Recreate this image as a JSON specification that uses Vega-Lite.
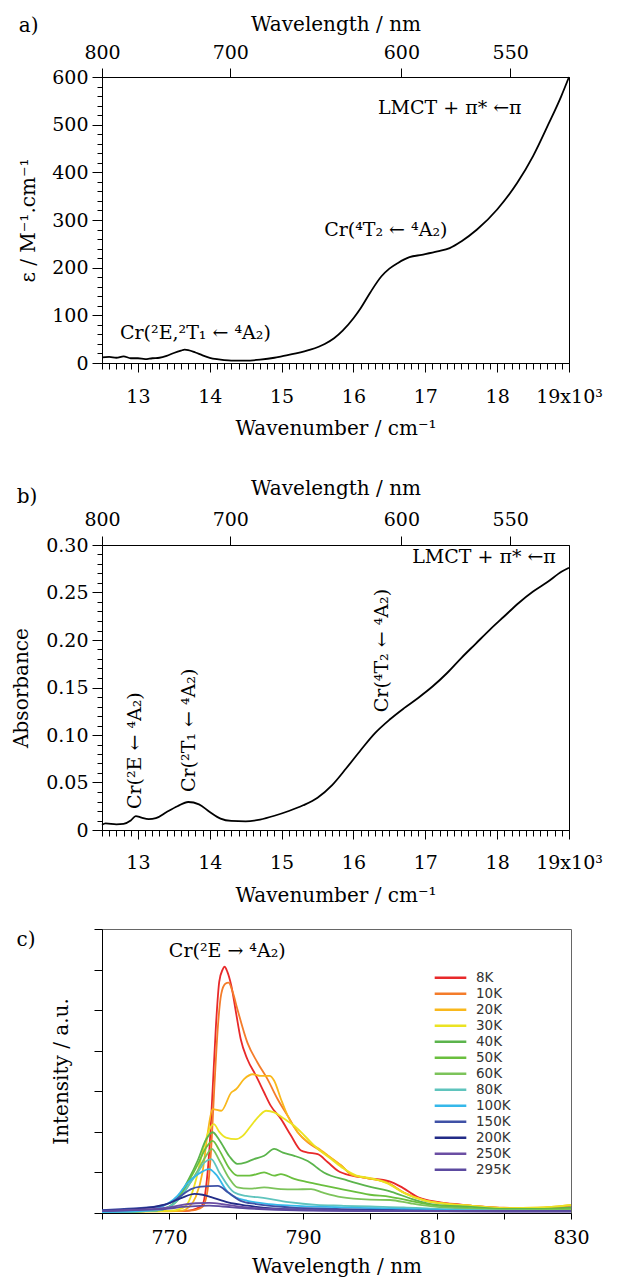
{
  "$schema": "https://vega.github.io/schema/vega-lite/v6.json",
  "background": "white",
  "padding": {"left": 11, "top": 13, "right": 5, "bottom": 0},
  "spacing": 22,
  "resolve": {"scale": {"color": "independent"}, "legend": {"color": "independent"}},
  "config": {
    "font": "DejaVu Serif",
    "view": {"stroke": "black", "strokeWidth": 1},
    "axis": {
      "labelFont": "DejaVu Serif", "labelFontSize": 19, "labelColor": "black",
      "titleFont": "DejaVu Serif", "titleFontSize": 20, "titleFontWeight": "normal", "titleColor": "black",
      "domainColor": "black", "tickColor": "black", "grid": false,
      "labelFlush": false, "labelOverlap": false, "labelBound": false
    },
    "title": {"font": "DejaVu Serif", "fontSize": 20, "fontWeight": "normal", "color": "black"},
    "text": {"font": "DejaVu Serif", "fontSize": 19, "color": "black"}
  },
  "datasets": {
    "a": [
      {"nu": 12500, "eps": 12}, {"nu": 12600, "eps": 13}, {"nu": 12700, "eps": 11}, {"nu": 12800, "eps": 14},
      {"nu": 12900, "eps": 10}, {"nu": 13000, "eps": 10}, {"nu": 13100, "eps": 8}, {"nu": 13200, "eps": 10},
      {"nu": 13300, "eps": 11}, {"nu": 13400, "eps": 15}, {"nu": 13500, "eps": 21}, {"nu": 13600, "eps": 26},
      {"nu": 13650, "eps": 28}, {"nu": 13700, "eps": 27}, {"nu": 13800, "eps": 22}, {"nu": 13900, "eps": 16},
      {"nu": 14000, "eps": 11}, {"nu": 14100, "eps": 8}, {"nu": 14200, "eps": 6}, {"nu": 14300, "eps": 5},
      {"nu": 14500, "eps": 5}, {"nu": 14700, "eps": 7}, {"nu": 14900, "eps": 11}, {"nu": 15000, "eps": 14},
      {"nu": 15200, "eps": 20}, {"nu": 15400, "eps": 28}, {"nu": 15600, "eps": 40}, {"nu": 15730, "eps": 52},
      {"nu": 15850, "eps": 68}, {"nu": 16000, "eps": 94}, {"nu": 16100, "eps": 115}, {"nu": 16230, "eps": 147},
      {"nu": 16390, "eps": 182}, {"nu": 16500, "eps": 198}, {"nu": 16620, "eps": 210}, {"nu": 16780, "eps": 222},
      {"nu": 16950, "eps": 227}, {"nu": 17170, "eps": 234}, {"nu": 17340, "eps": 241}, {"nu": 17500, "eps": 255},
      {"nu": 17720, "eps": 280}, {"nu": 18000, "eps": 322}, {"nu": 18280, "eps": 378}, {"nu": 18500, "eps": 434},
      {"nu": 18720, "eps": 503}, {"nu": 18890, "eps": 559}, {"nu": 19000, "eps": 600}
    ],
    "annA": [
      {"nu": 13800, "eps": 63, "label": "Cr(²E,²T₁ ← ⁴A₂)"},
      {"nu": 16450, "eps": 279, "label": "Cr(⁴T₂ ← ⁴A₂)"},
      {"nu": 17340, "eps": 535, "label": "LMCT + π* ←π"}
    ],
    "b": [
      {"nu": 12500, "abs": 0.0055}, {"nu": 12550, "abs": 0.007}, {"nu": 12700, "abs": 0.006}, {"nu": 12800, "abs": 0.0065},
      {"nu": 12900, "abs": 0.010}, {"nu": 12970, "abs": 0.0147}, {"nu": 13050, "abs": 0.013}, {"nu": 13150, "abs": 0.0115},
      {"nu": 13250, "abs": 0.0125}, {"nu": 13400, "abs": 0.019}, {"nu": 13550, "abs": 0.025}, {"nu": 13700, "abs": 0.0295},
      {"nu": 13850, "abs": 0.027}, {"nu": 14000, "abs": 0.019}, {"nu": 14150, "abs": 0.012}, {"nu": 14300, "abs": 0.0095},
      {"nu": 14500, "abs": 0.009}, {"nu": 14700, "abs": 0.011}, {"nu": 14900, "abs": 0.015}, {"nu": 15100, "abs": 0.020},
      {"nu": 15300, "abs": 0.026}, {"nu": 15500, "abs": 0.034}, {"nu": 15700, "abs": 0.047}, {"nu": 15900, "abs": 0.065},
      {"nu": 16100, "abs": 0.084}, {"nu": 16300, "abs": 0.102}, {"nu": 16500, "abs": 0.116}, {"nu": 16700, "abs": 0.128},
      {"nu": 16900, "abs": 0.139}, {"nu": 17100, "abs": 0.151}, {"nu": 17300, "abs": 0.165}, {"nu": 17500, "abs": 0.181},
      {"nu": 17700, "abs": 0.196}, {"nu": 17900, "abs": 0.211}, {"nu": 18100, "abs": 0.225}, {"nu": 18300, "abs": 0.239},
      {"nu": 18500, "abs": 0.251}, {"nu": 18700, "abs": 0.261}, {"nu": 18900, "abs": 0.272}, {"nu": 19000, "abs": 0.276}
    ],
    "annB": [
      {"nu": 17817, "abs": 0.287, "label": "LMCT + π* ←π"}
    ],
    "annBv": [
      {"nu": 12966, "abs": 0.022, "label": "Cr(²E ← ⁴A₂)"},
      {"nu": 13711, "abs": 0.040, "label": "Cr(²T₁ ← ⁴A₂)"},
      {"nu": 16397, "abs": 0.124, "label": "Cr(⁴T₂ ← ⁴A₂)"}
    ],
    "annC": [
      {"w": 778.7, "i": 6.45, "label": "Cr(²E → ⁴A₂)"}
    ],
    "c": [
      {"T": "8K", "w": 760, "i": 0.04}, {"T": "8K", "w": 766, "i": 0.05}, {"T": "8K", "w": 770, "i": 0.05}, {"T": "8K", "w": 772, "i": 0.05},
      {"T": "8K", "w": 773, "i": 0.06}, {"T": "8K", "w": 774, "i": 0.1}, {"T": "8K", "w": 775, "i": 0.2}, {"T": "8K", "w": 775.5, "i": 0.6},
      {"T": "8K", "w": 776, "i": 1.5}, {"T": "8K", "w": 776.5, "i": 3.0}, {"T": "8K", "w": 777, "i": 4.6}, {"T": "8K", "w": 777.5, "i": 5.7},
      {"T": "8K", "w": 778, "i": 6.0}, {"T": "8K", "w": 778.3, "i": 6.07}, {"T": "8K", "w": 778.7, "i": 5.95}, {"T": "8K", "w": 779.3, "i": 5.6},
      {"T": "8K", "w": 780, "i": 4.94}, {"T": "8K", "w": 780.7, "i": 4.29}, {"T": "8K", "w": 781.7, "i": 3.79}, {"T": "8K", "w": 783, "i": 3.38},
      {"T": "8K", "w": 784.2, "i": 2.97}, {"T": "8K", "w": 785.2, "i": 2.64}, {"T": "8K", "w": 786.7, "i": 2.32}, {"T": "8K", "w": 788.2, "i": 1.91},
      {"T": "8K", "w": 789.7, "i": 1.54}, {"T": "8K", "w": 790.7, "i": 1.49}, {"T": "8K", "w": 792.2, "i": 1.45}, {"T": "8K", "w": 793.7, "i": 1.25},
      {"T": "8K", "w": 795.2, "i": 1.04}, {"T": "8K", "w": 797.3, "i": 0.92}, {"T": "8K", "w": 799.6, "i": 0.86}, {"T": "8K", "w": 802.9, "i": 0.78},
      {"T": "8K", "w": 804.9, "i": 0.62}, {"T": "8K", "w": 807.3, "i": 0.38}, {"T": "8K", "w": 810.3, "i": 0.27}, {"T": "8K", "w": 813.3, "i": 0.21},
      {"T": "8K", "w": 816.3, "i": 0.16}, {"T": "8K", "w": 820, "i": 0.12}, {"T": "8K", "w": 825, "i": 0.1}, {"T": "8K", "w": 830, "i": 0.14},

      {"T": "10K", "w": 760, "i": 0.04}, {"T": "10K", "w": 770, "i": 0.05}, {"T": "10K", "w": 773, "i": 0.06}, {"T": "10K", "w": 774, "i": 0.08},
      {"T": "10K", "w": 775, "i": 0.15}, {"T": "10K", "w": 775.7, "i": 0.5}, {"T": "10K", "w": 776.3, "i": 1.6}, {"T": "10K", "w": 776.8, "i": 3.2},
      {"T": "10K", "w": 777.3, "i": 4.6}, {"T": "10K", "w": 777.8, "i": 5.4}, {"T": "10K", "w": 778.4, "i": 5.65}, {"T": "10K", "w": 778.9, "i": 5.68},
      {"T": "10K", "w": 779.5, "i": 5.45}, {"T": "10K", "w": 780.2, "i": 5.03}, {"T": "10K", "w": 781.7, "i": 4.2}, {"T": "10K", "w": 783.2, "i": 3.71},
      {"T": "10K", "w": 784.7, "i": 3.3}, {"T": "10K", "w": 786.2, "i": 2.81}, {"T": "10K", "w": 787.7, "i": 2.4}, {"T": "10K", "w": 789.2, "i": 1.99},
      {"T": "10K", "w": 790.7, "i": 1.74}, {"T": "10K", "w": 792.2, "i": 1.58}, {"T": "10K", "w": 793.7, "i": 1.41}, {"T": "10K", "w": 795.7, "i": 1.17},
      {"T": "10K", "w": 797.2, "i": 0.95}, {"T": "10K", "w": 799.2, "i": 0.87}, {"T": "10K", "w": 802.6, "i": 0.75}, {"T": "10K", "w": 805.1, "i": 0.5},
      {"T": "10K", "w": 808.1, "i": 0.32}, {"T": "10K", "w": 811.6, "i": 0.23}, {"T": "10K", "w": 815, "i": 0.18}, {"T": "10K", "w": 820, "i": 0.13},
      {"T": "10K", "w": 825, "i": 0.12}, {"T": "10K", "w": 830, "i": 0.18},

      {"T": "20K", "w": 760, "i": 0.03}, {"T": "20K", "w": 770, "i": 0.04}, {"T": "20K", "w": 772, "i": 0.06}, {"T": "20K", "w": 773, "i": 0.15},
      {"T": "20K", "w": 774, "i": 0.4}, {"T": "20K", "w": 775, "i": 1.0}, {"T": "20K", "w": 775.8, "i": 2.0}, {"T": "20K", "w": 776.5, "i": 2.56},
      {"T": "20K", "w": 777.8, "i": 2.52}, {"T": "20K", "w": 779.3, "i": 2.97}, {"T": "20K", "w": 780, "i": 3.05}, {"T": "20K", "w": 781.2, "i": 3.3},
      {"T": "20K", "w": 782.5, "i": 3.42}, {"T": "20K", "w": 783.7, "i": 3.38}, {"T": "20K", "w": 785, "i": 3.38}, {"T": "20K", "w": 785.7, "i": 3.26},
      {"T": "20K", "w": 786.7, "i": 2.81}, {"T": "20K", "w": 787.7, "i": 2.4}, {"T": "20K", "w": 789.2, "i": 1.99}, {"T": "20K", "w": 790.7, "i": 1.76},
      {"T": "20K", "w": 792.2, "i": 1.6}, {"T": "20K", "w": 793.7, "i": 1.42}, {"T": "20K", "w": 795.7, "i": 1.17}, {"T": "20K", "w": 797.2, "i": 0.95},
      {"T": "20K", "w": 799.2, "i": 0.87}, {"T": "20K", "w": 802.6, "i": 0.74}, {"T": "20K", "w": 805.1, "i": 0.5}, {"T": "20K", "w": 808.1, "i": 0.31},
      {"T": "20K", "w": 811.6, "i": 0.22}, {"T": "20K", "w": 815, "i": 0.18}, {"T": "20K", "w": 820, "i": 0.12}, {"T": "20K", "w": 825, "i": 0.13},
      {"T": "20K", "w": 830, "i": 0.2},

      {"T": "30K", "w": 760, "i": 0.03}, {"T": "30K", "w": 770, "i": 0.05}, {"T": "30K", "w": 772, "i": 0.12}, {"T": "30K", "w": 773, "i": 0.3},
      {"T": "30K", "w": 774, "i": 0.8}, {"T": "30K", "w": 775, "i": 1.5}, {"T": "30K", "w": 776, "i": 2.05}, {"T": "30K", "w": 776.7, "i": 2.19},
      {"T": "30K", "w": 777.5, "i": 2.0}, {"T": "30K", "w": 778.5, "i": 1.86}, {"T": "30K", "w": 780, "i": 1.82}, {"T": "30K", "w": 781, "i": 1.9},
      {"T": "30K", "w": 782, "i": 2.1}, {"T": "30K", "w": 783.5, "i": 2.4}, {"T": "30K", "w": 784.5, "i": 2.52}, {"T": "30K", "w": 785.7, "i": 2.48},
      {"T": "30K", "w": 787.2, "i": 2.32}, {"T": "30K", "w": 788.7, "i": 2.15}, {"T": "30K", "w": 790.2, "i": 1.91}, {"T": "30K", "w": 792.2, "i": 1.58},
      {"T": "30K", "w": 794.2, "i": 1.33}, {"T": "30K", "w": 796, "i": 1.1}, {"T": "30K", "w": 798, "i": 0.92}, {"T": "30K", "w": 800, "i": 0.86},
      {"T": "30K", "w": 802.6, "i": 0.73}, {"T": "30K", "w": 805.1, "i": 0.49}, {"T": "30K", "w": 808.1, "i": 0.31}, {"T": "30K", "w": 811.6, "i": 0.22},
      {"T": "30K", "w": 815, "i": 0.18}, {"T": "30K", "w": 820, "i": 0.12}, {"T": "30K", "w": 825, "i": 0.13}, {"T": "30K", "w": 830, "i": 0.2},

      {"T": "40K", "w": 760, "i": 0.02}, {"T": "40K", "w": 768, "i": 0.06}, {"T": "40K", "w": 770, "i": 0.15}, {"T": "40K", "w": 772, "i": 0.55},
      {"T": "40K", "w": 773, "i": 0.85}, {"T": "40K", "w": 774.3, "i": 1.3}, {"T": "40K", "w": 775.5, "i": 1.8}, {"T": "40K", "w": 776.5, "i": 1.99},
      {"T": "40K", "w": 777.5, "i": 1.8}, {"T": "40K", "w": 779, "i": 1.4}, {"T": "40K", "w": 780.2, "i": 1.21}, {"T": "40K", "w": 781.5, "i": 1.25},
      {"T": "40K", "w": 782.7, "i": 1.33}, {"T": "40K", "w": 784.2, "i": 1.41}, {"T": "40K", "w": 785.7, "i": 1.58}, {"T": "40K", "w": 787, "i": 1.49},
      {"T": "40K", "w": 788.7, "i": 1.41}, {"T": "40K", "w": 790.7, "i": 1.28}, {"T": "40K", "w": 793.1, "i": 1.0}, {"T": "40K", "w": 796.7, "i": 0.8},
      {"T": "40K", "w": 800.2, "i": 0.64}, {"T": "40K", "w": 803.2, "i": 0.52}, {"T": "40K", "w": 806.2, "i": 0.35}, {"T": "40K", "w": 809.1, "i": 0.22},
      {"T": "40K", "w": 815, "i": 0.15}, {"T": "40K", "w": 820, "i": 0.1}, {"T": "40K", "w": 825, "i": 0.1}, {"T": "40K", "w": 830, "i": 0.14},

      {"T": "50K", "w": 760, "i": 0.02}, {"T": "50K", "w": 768, "i": 0.06}, {"T": "50K", "w": 770, "i": 0.15}, {"T": "50K", "w": 772, "i": 0.5},
      {"T": "50K", "w": 773, "i": 0.8}, {"T": "50K", "w": 774.3, "i": 1.2}, {"T": "50K", "w": 775.5, "i": 1.6}, {"T": "50K", "w": 776.5, "i": 1.78},
      {"T": "50K", "w": 777.5, "i": 1.55}, {"T": "50K", "w": 779, "i": 1.1}, {"T": "50K", "w": 780.2, "i": 0.92}, {"T": "50K", "w": 782, "i": 0.92},
      {"T": "50K", "w": 784.2, "i": 1.0}, {"T": "50K", "w": 785.7, "i": 0.92}, {"T": "50K", "w": 786.7, "i": 0.96}, {"T": "50K", "w": 788.7, "i": 0.84},
      {"T": "50K", "w": 790.7, "i": 0.76}, {"T": "50K", "w": 793, "i": 0.68}, {"T": "50K", "w": 795.7, "i": 0.59}, {"T": "50K", "w": 800, "i": 0.45},
      {"T": "50K", "w": 803, "i": 0.4}, {"T": "50K", "w": 806, "i": 0.3}, {"T": "50K", "w": 810, "i": 0.18}, {"T": "50K", "w": 815, "i": 0.12},
      {"T": "50K", "w": 820, "i": 0.08}, {"T": "50K", "w": 830, "i": 0.1},

      {"T": "60K", "w": 760, "i": 0.02}, {"T": "60K", "w": 768, "i": 0.06}, {"T": "60K", "w": 770, "i": 0.14}, {"T": "60K", "w": 772, "i": 0.45},
      {"T": "60K", "w": 773, "i": 0.7}, {"T": "60K", "w": 774.3, "i": 1.05}, {"T": "60K", "w": 775.5, "i": 1.4}, {"T": "60K", "w": 776.4, "i": 1.58},
      {"T": "60K", "w": 777.5, "i": 1.3}, {"T": "60K", "w": 779, "i": 0.85}, {"T": "60K", "w": 780.2, "i": 0.63}, {"T": "60K", "w": 782, "i": 0.6},
      {"T": "60K", "w": 784.2, "i": 0.63}, {"T": "60K", "w": 786.7, "i": 0.59}, {"T": "60K", "w": 788.7, "i": 0.58}, {"T": "60K", "w": 791.2, "i": 0.59},
      {"T": "60K", "w": 793, "i": 0.5}, {"T": "60K", "w": 795.7, "i": 0.39}, {"T": "60K", "w": 800, "i": 0.33}, {"T": "60K", "w": 803, "i": 0.32},
      {"T": "60K", "w": 806, "i": 0.24}, {"T": "60K", "w": 810, "i": 0.15}, {"T": "60K", "w": 815, "i": 0.1}, {"T": "60K", "w": 820, "i": 0.07},
      {"T": "60K", "w": 830, "i": 0.08},

      {"T": "80K", "w": 760, "i": 0.02}, {"T": "80K", "w": 768, "i": 0.06}, {"T": "80K", "w": 770, "i": 0.15}, {"T": "80K", "w": 772, "i": 0.45},
      {"T": "80K", "w": 773, "i": 0.7}, {"T": "80K", "w": 774.3, "i": 1.0}, {"T": "80K", "w": 775.3, "i": 1.25}, {"T": "80K", "w": 776.3, "i": 1.33},
      {"T": "80K", "w": 777.5, "i": 1.0}, {"T": "80K", "w": 779.7, "i": 0.51}, {"T": "80K", "w": 781.5, "i": 0.42}, {"T": "80K", "w": 783.2, "i": 0.39},
      {"T": "80K", "w": 785, "i": 0.35}, {"T": "80K", "w": 788.2, "i": 0.26}, {"T": "80K", "w": 792, "i": 0.2}, {"T": "80K", "w": 795.7, "i": 0.18},
      {"T": "80K", "w": 800, "i": 0.16}, {"T": "80K", "w": 805, "i": 0.14}, {"T": "80K", "w": 810, "i": 0.1}, {"T": "80K", "w": 820, "i": 0.06},
      {"T": "80K", "w": 830, "i": 0.05},

      {"T": "100K", "w": 760, "i": 0.02}, {"T": "100K", "w": 766, "i": 0.05}, {"T": "100K", "w": 768, "i": 0.1}, {"T": "100K", "w": 770, "i": 0.25},
      {"T": "100K", "w": 771.3, "i": 0.43}, {"T": "100K", "w": 772.8, "i": 0.75}, {"T": "100K", "w": 774.3, "i": 0.95}, {"T": "100K", "w": 776, "i": 1.08},
      {"T": "100K", "w": 777, "i": 0.95}, {"T": "100K", "w": 778.8, "i": 0.51}, {"T": "100K", "w": 780, "i": 0.38}, {"T": "100K", "w": 781.7, "i": 0.3},
      {"T": "100K", "w": 785, "i": 0.22}, {"T": "100K", "w": 788.2, "i": 0.18}, {"T": "100K", "w": 795.7, "i": 0.14}, {"T": "100K", "w": 800, "i": 0.12},
      {"T": "100K", "w": 810, "i": 0.08}, {"T": "100K", "w": 820, "i": 0.05}, {"T": "100K", "w": 830, "i": 0.05},

      {"T": "150K", "w": 760, "i": 0.07}, {"T": "150K", "w": 763.3, "i": 0.1}, {"T": "150K", "w": 768.3, "i": 0.16}, {"T": "150K", "w": 770.3, "i": 0.26},
      {"T": "150K", "w": 772, "i": 0.45}, {"T": "150K", "w": 773.3, "i": 0.59}, {"T": "150K", "w": 774.8, "i": 0.65}, {"T": "150K", "w": 777.3, "i": 0.67},
      {"T": "150K", "w": 778.8, "i": 0.51}, {"T": "150K", "w": 780.7, "i": 0.3}, {"T": "150K", "w": 783, "i": 0.22}, {"T": "150K", "w": 788, "i": 0.14},
      {"T": "150K", "w": 795, "i": 0.1}, {"T": "150K", "w": 805, "i": 0.07}, {"T": "150K", "w": 815, "i": 0.05}, {"T": "150K", "w": 830, "i": 0.05},

      {"T": "200K", "w": 760, "i": 0.06}, {"T": "200K", "w": 764, "i": 0.09}, {"T": "200K", "w": 768, "i": 0.16}, {"T": "200K", "w": 770, "i": 0.24},
      {"T": "200K", "w": 772, "i": 0.38}, {"T": "200K", "w": 773.8, "i": 0.47}, {"T": "200K", "w": 775, "i": 0.45}, {"T": "200K", "w": 776.3, "i": 0.39},
      {"T": "200K", "w": 778.8, "i": 0.26}, {"T": "200K", "w": 781.7, "i": 0.18}, {"T": "200K", "w": 786, "i": 0.11}, {"T": "200K", "w": 795, "i": 0.07},
      {"T": "200K", "w": 805, "i": 0.05}, {"T": "200K", "w": 830, "i": 0.04},

      {"T": "250K", "w": 760, "i": 0.05}, {"T": "250K", "w": 765, "i": 0.08}, {"T": "250K", "w": 770, "i": 0.14}, {"T": "250K", "w": 772, "i": 0.2},
      {"T": "250K", "w": 774, "i": 0.24}, {"T": "250K", "w": 776, "i": 0.25}, {"T": "250K", "w": 778, "i": 0.22}, {"T": "250K", "w": 780, "i": 0.17},
      {"T": "250K", "w": 783, "i": 0.12}, {"T": "250K", "w": 790, "i": 0.08}, {"T": "250K", "w": 800, "i": 0.05}, {"T": "250K", "w": 830, "i": 0.04},

      {"T": "295K", "w": 760, "i": 0.05}, {"T": "295K", "w": 765, "i": 0.07}, {"T": "295K", "w": 770, "i": 0.11}, {"T": "295K", "w": 772, "i": 0.15},
      {"T": "295K", "w": 774, "i": 0.17}, {"T": "295K", "w": 776, "i": 0.18}, {"T": "295K", "w": 778, "i": 0.16}, {"T": "295K", "w": 781, "i": 0.12},
      {"T": "295K", "w": 786, "i": 0.08}, {"T": "295K", "w": 795, "i": 0.05}, {"T": "295K", "w": 830, "i": 0.04}
    ]
  },
  "vconcat": [
    {
      "spacing": 38,
      "vconcat": [
        {
          "width": 467, "height": 286,
          "title": {"text": "a)", "anchor": "start", "frame": "bounds", "dy": 26, "dx": 0},
          "layer": [
            {
              "data": {"name": "a"},
              "mark": {"type": "line", "color": "black", "strokeWidth": 1.8, "interpolate": "monotone"},
              "encoding": {
                "x": {"field": "nu", "type": "quantitative", "scale": {"domain": [12500, 19000], "nice": false, "zero": false},
                  "axis": {"orient": "bottom", "title": "Wavenumber / cm⁻¹", "labelOverlap": false,
                    "values": [12500,12600,12700,12800,12900,13000,13100,13200,13300,13400,13500,13600,13700,13800,13900,14000,14100,14200,14300,14400,14500,14600,14700,14800,14900,15000,15100,15200,15300,15400,15500,15600,15700,15800,15900,16000,16100,16200,16300,16400,16500,16600,16700,16800,16900,17000,17100,17200,17300,17400,17500,17600,17700,17800,17900,18000,18100,18200,18300,18400,18500,18600,18700,18800,18900,19000],
                    "labelExpr": "datum.value % 1000 == 0 ? (datum.value == 19000 ? '19x10³' : toString(datum.value/1000)) : ''",
                    "tickSize": {"condition": {"test": "datum.value % 1000 == 0", "value": 9}, "value": 6},
                    "labelPadding": 15, "titlePadding": 12}},
                "y": {"field": "eps", "type": "quantitative", "scale": {"domain": [0, 600], "nice": false},
                  "axis": {"title": "ε / M⁻¹.cm⁻¹", "labelOverlap": false,
                    "values": [0,20,40,60,80,100,120,140,160,180,200,220,240,260,280,300,320,340,360,380,400,420,440,460,480,500,520,540,560,580,600],
                    "labelExpr": "datum.value % 100 == 0 ? toString(datum.value) : ''",
                    "tickSize": {"condition": {"test": "datum.value % 100 == 0", "value": 10}, "value": 5},
                    "labelPadding": 4, "titlePadding": 13}}
              }
            },
            {
              "data": {"name": "annA"},
              "mark": {"type": "text", "align": "center", "baseline": "middle", "fontSize": 19},
              "encoding": {
                "x": {"field": "nu", "type": "quantitative",
                  "axis": {"orient": "top", "title": "Wavelength / nm", "values": [12500, 14285.714, 16666.667, 18181.818], "labelOverlap": false,
                    "labelExpr": "toString(round(1e7/datum.value))", "tickSize": 9, "labelPadding": 6, "titlePadding": 9}},
                "y": {"field": "eps", "type": "quantitative", "axis": null},
                "text": {"field": "label"}
              }
            }
          ],
          "resolve": {"axis": {"x": "independent", "y": "independent"}}
        },
        {
          "width": 467, "height": 285,
          "title": {"text": "b)", "anchor": "start", "frame": "bounds", "dy": 33, "dx": 5},
          "layer": [
            {
              "data": {"name": "b"},
              "mark": {"type": "line", "color": "black", "strokeWidth": 1.8, "interpolate": "monotone"},
              "encoding": {
                "x": {"field": "nu", "type": "quantitative", "scale": {"domain": [12500, 19000], "nice": false, "zero": false},
                  "axis": {"orient": "bottom", "title": "Wavenumber / cm⁻¹", "labelOverlap": false,
                    "values": [12500,12600,12700,12800,12900,13000,13100,13200,13300,13400,13500,13600,13700,13800,13900,14000,14100,14200,14300,14400,14500,14600,14700,14800,14900,15000,15100,15200,15300,15400,15500,15600,15700,15800,15900,16000,16100,16200,16300,16400,16500,16600,16700,16800,16900,17000,17100,17200,17300,17400,17500,17600,17700,17800,17900,18000,18100,18200,18300,18400,18500,18600,18700,18800,18900,19000],
                    "labelExpr": "datum.value % 1000 == 0 ? (datum.value == 19000 ? '19x10³' : toString(datum.value/1000)) : ''",
                    "tickSize": {"condition": {"test": "datum.value % 1000 == 0", "value": 9}, "value": 6},
                    "labelPadding": 14, "titlePadding": 13}},
                "y": {"field": "abs", "type": "quantitative", "scale": {"domain": [0, 0.3], "nice": false},
                  "axis": {"title": "Absorbance", "labelOverlap": false,
                    "values": [0,0.01,0.02,0.03,0.04,0.05,0.06,0.07,0.08,0.09,0.1,0.11,0.12,0.13,0.14,0.15,0.16,0.17,0.18,0.19,0.2,0.21,0.22,0.23,0.24,0.25,0.26,0.27,0.28,0.29,0.3],
                    "labelExpr": "datum.value < 0.001 ? '0' : (round(datum.value*100) % 5 == 0 ? format(datum.value, '.2f') : '')",
                    "tickSize": {"condition": {"test": "round(datum.value*100) % 5 == 0", "value": 10}, "value": 5},
                    "labelPadding": 4, "titlePadding": 14}}
              }
            },
            {
              "data": {"name": "annB"},
              "mark": {"type": "text", "align": "center", "baseline": "middle", "fontSize": 19},
              "encoding": {
                "x": {"field": "nu", "type": "quantitative",
                  "axis": {"orient": "top", "title": "Wavelength / nm", "values": [12500, 14285.714, 16666.667, 18181.818], "labelOverlap": false,
                    "labelExpr": "toString(round(1e7/datum.value))", "tickSize": 9, "labelPadding": 7, "titlePadding": 12}},
                "y": {"field": "abs", "type": "quantitative", "axis": null},
                "text": {"field": "label"}
              }
            },
            {
              "data": {"name": "annBv"},
              "mark": {"type": "text", "align": "left", "baseline": "middle", "angle": 270, "fontSize": 19},
              "encoding": {
                "x": {"field": "nu", "type": "quantitative", "axis": null},
                "y": {"field": "abs", "type": "quantitative", "axis": null},
                "text": {"field": "label"}
              }
            }
          ],
          "resolve": {"axis": {"x": "independent", "y": "independent"}}
        }
      ]
    },
    {
      "width": 469, "height": 284,
      "title": {"text": "c)", "anchor": "start", "frame": "bounds", "dy": 25, "dx": -35},
      "view": {"stroke": "#666"},
      "layer": [
        {
          "data": {"name": "c"},
          "mark": {"type": "line", "strokeWidth": 1.8, "interpolate": "monotone"},
          "encoding": {
            "x": {"field": "w", "type": "quantitative", "scale": {"domain": [760, 830], "nice": false, "zero": false},
              "axis": {"title": "Wavelength / nm", "values": [760,770,780,790,800,810,820,830], "labelOverlap": false,
                "labelExpr": "(datum.value - 770) % 20 == 0 ? toString(datum.value) : ''",
                "tickSize": 6, "labelPadding": 9, "titlePadding": 9}},
            "y": {"field": "i", "type": "quantitative", "scale": {"domain": [0, 7], "nice": false},
              "axis": {"title": "Intensity / a.u.", "values": [0,1,2,3,4,5,6,7], "labels": false, "tickSize": 8, "titlePadding": 22}},
            "color": {"field": "T", "type": "nominal",
              "scale": {"domain": ["8K","10K","20K","30K","40K","50K","60K","80K","100K","150K","200K","250K","295K"],
                "range": ["#e8292a","#f47c2a","#f9b81c","#ebe322","#5bb44c","#6abf3e","#7cc35a","#5fc4bd","#35b8ea","#3f51a6","#222b87","#6b4ea3","#5c4aa0"]},
              "legend": {"orient": "none", "legendX": 331, "legendY": 41, "title": null, "symbolType": "stroke",
                "symbolSize": 1000, "symbolStrokeWidth": 2.5, "labelFont": "DejaVu Sans", "labelFontSize": 13.5,
                "labelColor": "#333", "rowPadding": 0, "clipHeight": 15.4, "labelOffset": 8}}
          }
        },
        {
          "data": {"name": "annC"},
          "mark": {"type": "text", "align": "center", "baseline": "middle", "fontSize": 19},
          "encoding": {
            "x": {"field": "w", "type": "quantitative"},
            "y": {"field": "i", "type": "quantitative"},
            "text": {"field": "label"}
          }
        }
      ]
    }
  ]
}
